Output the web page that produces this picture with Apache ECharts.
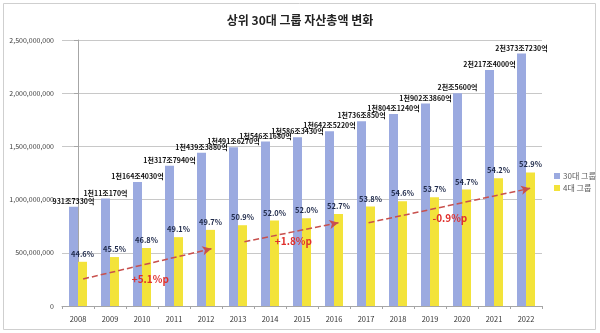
<!DOCTYPE html>
<html>
<head>
<meta charset="utf-8">
<script src="https://cdn.jsdelivr.net/npm/echarts@6/dist/echarts.min.js"></script>
<style>
html,body{margin:0;padding:0;background:#fff;}
#c{width:600px;height:333px;}
</style>
</head>
<body>
<div id="c"></div>
<script>
// categories
var years = ['2008','2009','2010','2011','2012','2013','2014','2015','2016','2017','2018','2019','2020','2021','2022'];
// 30대 그룹 자산총액 (백만원)
var total30 = [931733000,1011017000,1164403000,1317794000,1439388000,1491627000,1546168000,1586343000,1642522000,1736085000,1804124000,1902386000,2000560000,2217400000,2373723000];
var total30Labels = ['931조7330억','1천11조170억','1천164조4030억','1천317조7940억','1천439조3880억','1천491조6270억','1천546조1680억','1천586조3430억','1천642조5220억','1천736조850억','1천804조1240억','1천902조3860억','2천조5600억','2천217조4000억','2천373조7230억'];
// 4대 그룹 자산총액 (백만원)
var top4 = [415500000,460000000,544900000,647000000,715400000,759200000,804000000,824900000,865600000,934000000,985100000,1021600000,1094300000,1201800000,1255700000];
var top4Share = ['44.6%','45.5%','46.8%','49.1%','49.7%','50.9%','52.0%','52.0%','52.7%','53.8%','54.6%','53.7%','54.7%','54.2%','52.9%'];
// y axis
var yMin = 0, yMax = 2500000000, yStep = 500000000;
// trend annotations: [startIndex, startValue, endIndex, endValue]
var trendLines = [
  [0.16, 254000000, 4.17, 538000000],
  [5.20, 604000000, 8.14, 783000000],
  [9.08, 783000000, 14.13, 1106000000]
];
var trendTexts = ['+5.1%p','+1.8%p','-0.9%p'];
var trendTextPos = [[2.26, 254000000],[6.73, 611000000],[11.62, 827000000]];

var FONT = '"Noto Sans CJK KR", "Noto Sans", sans-serif';
var chart = echarts.init(document.getElementById('c'), null, {renderer:'canvas'});

var option = {
  backgroundColor:'#fff',
  textStyle:{fontFamily:FONT},
  animation:false,
  title:{
    text:'상위 30대 그룹 자산총액 변화',
    left:'center', top:9,
    textStyle:{fontSize:12, fontWeight:'bold', color:'#222', fontFamily:FONT}
  },
  graphic:[{
    type:'rect', shape:{x:3.5,y:3.5,width:592,height:326},
    style:{fill:'none', stroke:'#cfcfcf', lineWidth:1}, silent:true
  }],
  legend:{
    data:['30대 그룹','4대 그룹'],
    orient:'vertical', left:549, top:167,
    itemWidth:6, itemHeight:6, itemGap:4,
    icon:'rect',
    textStyle:{fontSize:8, color:'#595959', fontFamily:FONT, padding:[0,0,0,-2]}
  },
  grid:{left:62, right:58, top:40, bottom:27, containLabel:false},
  xAxis:[{
    type:'category', data:years,
    axisLine:{lineStyle:{color:'#a6a6a6'}},
    axisTick:{show:true, length:3, lineStyle:{color:'#a6a6a6'}},
    axisLabel:{fontSize:7.5, color:'#333', margin:9, fontFamily:FONT}
  },{
    type:'value', min:-0.5, max:14.5, show:false
  }],
  yAxis:{
    type:'value', min:yMin, max:yMax, interval:yStep,
    axisLine:{show:true, lineStyle:{color:'#a6a6a6'}},
    axisTick:{show:true, length:4, lineStyle:{color:'#a6a6a6'}},
    axisLabel:{fontSize:7, color:'#404040', margin:8, fontFamily:FONT,
      formatter:function(v){return v.toLocaleString('en-US');}},
    splitLine:{lineStyle:{color:'#c8c8c8'}}
  },
  series:[{
    name:'30대 그룹', type:'bar', data:total30,
    barWidth:9, barGap:'0%',
    itemStyle:{color:'#9baae0'},
    label:{show:true, position:'top', distance:2, fontSize:7, fontWeight:'bold', color:'#111', fontFamily:FONT,
      formatter:function(p){return total30Labels[p.dataIndex];}}
  },{
    name:'4대 그룹', type:'bar', data:top4,
    barWidth:9,
    itemStyle:{color:'#f3e33a'},
    label:{show:true, position:'top', distance:4, fontSize:7.5, fontWeight:'bold', color:'#1f2a4a', fontFamily:FONT,
      formatter:function(p){return top4Share[p.dataIndex];}}
  },{
    name:'trend', type:'scatter', xAxisIndex:1, yAxisIndex:0, data:[],
    silent:true,
    markLine:{
      silent:true, animation:false,
      symbol:['none','arrow'], symbolSize:[7,9],
      lineStyle:{type:[6,3], color:'#c8504d', width:1.5},
      label:{show:false},
      data:trendLines.map(function(t){return [{coord:[t[0],t[1]]},{coord:[t[2],t[3]]}];})
    },
    markPoint:{
      silent:true, animation:false,
      symbol:'rect', symbolSize:1,
      itemStyle:{color:'rgba(0,0,0,0)'},
      label:{show:true, position:'inside', fontSize:10, fontWeight:'bold', color:'#e0302c', fontFamily:FONT,
        formatter:function(p){return p.name;}},
      data:trendTexts.map(function(t,i){return {name:t, coord:trendTextPos[i]};})
    }
  }]
};
chart.setOption(option);
</script>
</body>
</html>
